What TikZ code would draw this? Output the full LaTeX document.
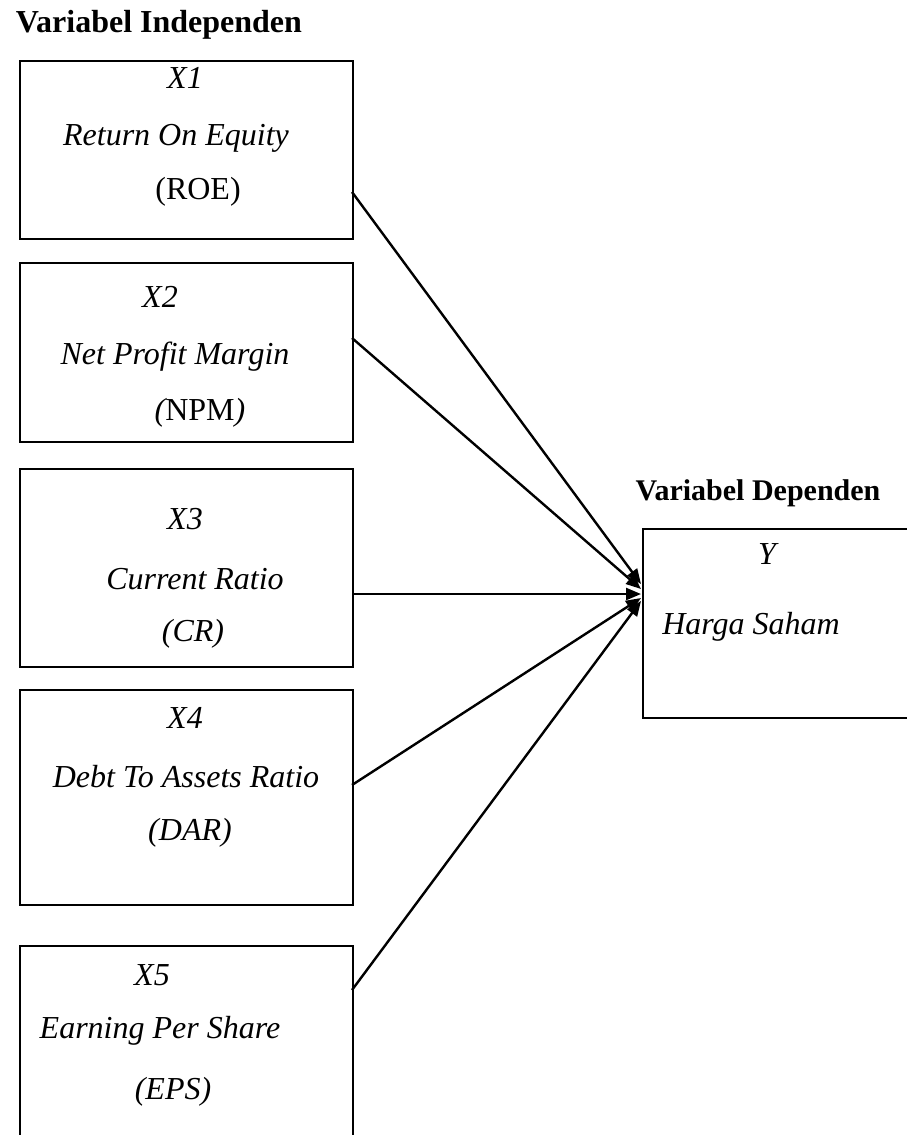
\documentclass[tikz,border=0pt]{standalone}
\usepackage{fontspec}
\setmainfont{Liberation Serif}
\usetikzlibrary{arrows.meta}
\begin{document}
\begin{tikzpicture}[x=1pt,y=-1pt,
  box/.style={draw, line width=2pt, anchor=north west, inner sep=0pt},
  txt/.style={font=\fontsize{32}{36}\selectfont\itshape, inner sep=0pt},
  ttl/.style={font=\fontsize{32}{36}\selectfont\bfseries, inner sep=0pt},
  arr/.style={line width=2.4pt, -{Triangle[length=15pt,width=12pt]}}]
\useasboundingbox (0,0) rectangle (907,1135);
\clip (0,0) rectangle (907,1135);
% titles
\node[ttl] (t1) at (159,25) {Variabel Independen};
\node[ttl, font=\fontsize{30}{34}\selectfont\bfseries] (t2) at (758,493) {Variabel Dependen};
% boxes
\node[box, minimum width=333pt, minimum height=178pt] (b1) at (19,60) {};
\node[box, minimum width=333pt, minimum height=179pt] (b2) at (19,262) {};
\node[box, minimum width=333pt, minimum height=198pt] (b3) at (19,468) {};
\node[box, minimum width=333pt, minimum height=215pt] (b4) at (19,689) {};
\node[box, minimum width=333pt, minimum height=220pt] (b5) at (19,945) {};
\node[box, minimum width=280pt, minimum height=189pt] (by) at (642,528) {};
% texts
\node[txt] (x1) at (185,78) {X1};
\node[txt] (r1) at (176,138) {Return On Equity};
\node[txt] (s1) at (198,192) {\upshape(ROE)};
\node[txt] (x2) at (160,297) {X2};
\node[txt] (r2) at (175,357) {Net Profit Margin};
\node[txt] (s2) at (200,413) {(\upshape NPM\itshape)};
\node[txt] (x3) at (185,519) {X3};
\node[txt] (r3) at (195,579) {Current Ratio};
\node[txt] (s3) at (193,634) {(CR)};
\node[txt] (x4) at (185,718) {X4};
\node[txt] (r4) at (186,777) {Debt To Assets Ratio};
\node[txt] (s4) at (190,833) {(DAR)};
\node[txt] (x5) at (152,975) {X5};
\node[txt] (r5) at (160,1031) {Earning Per Share};
\node[txt] (s5) at (173,1092) {(EPS)};
\node[txt] (xy) at (767,554) {Y};
\node[txt] (ry) at (751,627) {Harga Saham};
% connector points
\coordinate (p1) at (352,192);
\coordinate (p2) at (352,338);
\coordinate (p3) at (352,594);
\coordinate (p4) at (352,785);
\coordinate (p5) at (352,990);
\coordinate (q1) at (641,584);
\coordinate (q2) at (641,589);
\coordinate (q3) at (641,594);
\coordinate (q4) at (641,598);
\coordinate (q5) at (641,601);
\draw[arr] (p1) -- (q1);
\draw[arr] (p2) -- (q2);
\draw[arr] (p3) -- (q3);
\draw[arr] (p4) -- (q4);
\draw[arr] (p5) -- (q5);
\end{tikzpicture}
\end{document}
